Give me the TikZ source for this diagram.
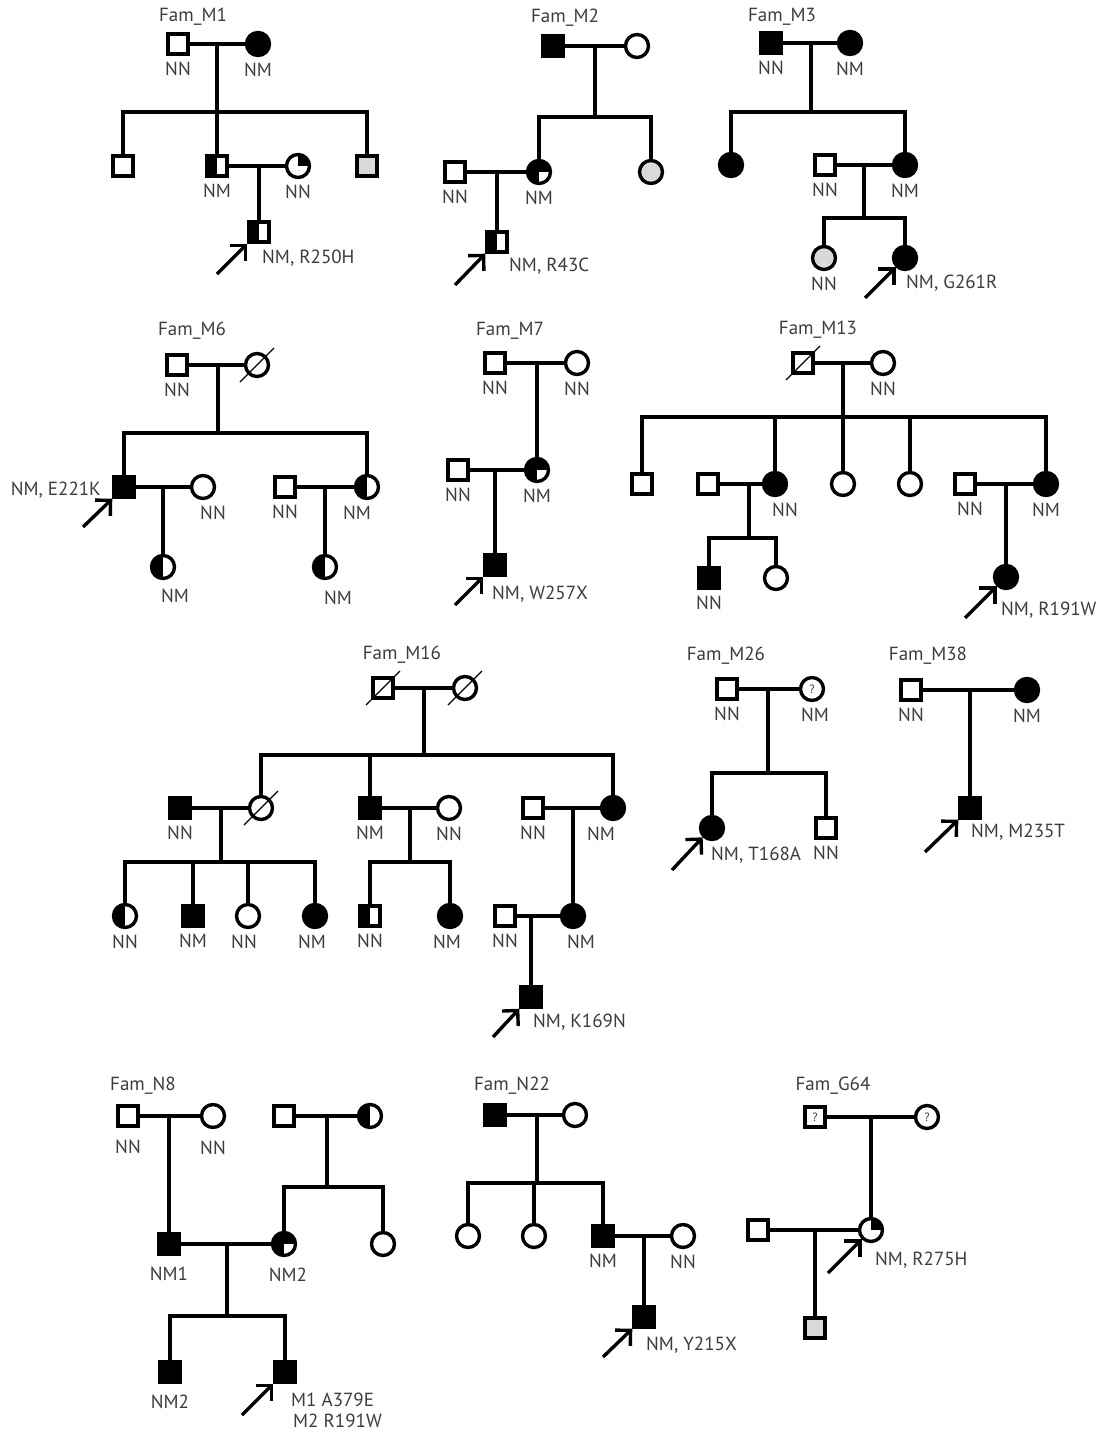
\documentclass[tikz,border=0pt]{standalone}
\usepackage{fontspec}
\newfontfamily\pedfont{PT Sans}
\usetikzlibrary{arrows.meta,calc}
\definecolor{labgray}{HTML}{3C3C3C}
\definecolor{carrgray}{HTML}{D9D9D9}

\begin{document}
\begin{tikzpicture}[x=1pt,y=-1pt,label distance=5pt,
 every label/.style={lab},
 lab/.style={font=\pedfont\fontsize{19}{21}\selectfont,text=labgray,inner sep=1pt},
 sq/.style={draw,line width=3.4pt,minimum size=20pt,inner sep=0pt,fill=white},
 ci/.style={circle,draw,line width=3.4pt,minimum size=23pt,inner sep=0pt,fill=white},
 aff/.style={fill=black},
 carr/.style={fill=carrgray},
 halfL/.style={path picture={\fill[black] (path picture bounding box.south west) rectangle (path picture bounding box.north);}},
 quartUR/.style={path picture={\fill[black] (path picture bounding box.center) rectangle (path picture bounding box.north east);}},
 threeQ/.style={path picture={\fill[black] (path picture bounding box.south west) rectangle (path picture bounding box.north);
   \fill[black] (path picture bounding box.center) rectangle (path picture bounding box.north east);}},
 qmark/.style={font=\pedfont\fontsize{12}{12}\selectfont,text=labgray},
 link/.style={line width=3.4pt},
 slash/.style={line width=1.2pt},
 proband/.style={line width=3.4pt,-{Straight Barb[length=11pt,width=22pt]}}]
\useasboundingbox (0,0) rectangle (1105,1432);

% Fam_M1
\node[lab] (t1) at (193,17) {Fam\_M1};
\node[sq,label={below:NN}] (m1f) at (178,44) {};
\node[ci,aff,label={below:NM}] (m1m) at (258,44) {};
\node[sq] (m1c1) at (123,166) {};
\node[sq,halfL,label={below:NM}] (m1c2) at (217,166) {};
\node[ci,quartUR,label={below:NN}] (m1w) at (298,166) {};
\node[sq,carr] (m1c3) at (367,166) {};
\node[sq,halfL] (m1p) at (259,232) {};
\node[lab,anchor=west] (m1l) at (261,258) {NM, R250H};
\coordinate (m1j) at (217,44);
\coordinate (m1s) at (217,112);
\coordinate (m1j2) at (259,166);
\coordinate (m1a) at (217,274);
\draw[link] (m1f) -- (m1m);
\draw[link] (m1j) -- (m1c2);
\draw[link] (m1c1) |- (m1s) -| (m1c3);
\draw[link] (m1c2) -- (m1w);
\draw[link] (m1j2) -- (m1p);
\draw[proband] (m1a) -- (m1p.south west);

% Fam_M2
\node[lab] (t2) at (565,18) {Fam\_M2};
\node[sq,aff] (m2f) at (553,46) {};
\node[ci] (m2m) at (637,46) {};
\node[ci,threeQ,label={below:NM}] (m2d) at (539,172) {};
\node[ci,carr] (m2e) at (651,172) {};
\node[sq,label={below:NN}] (m2h) at (455,172) {};
\node[sq,halfL] (m2p) at (497,242) {};
\node[lab,anchor=west] (m2l) at (508,266) {NM, R43C};
\coordinate (m2j) at (595,46);
\coordinate (m2s) at (595,117);
\coordinate (m2j2) at (497,172);
\coordinate (m2a) at (455,285);
\draw[link] (m2f) -- (m2m);
\draw[link] (m2j) -- (m2s);
\draw[link] (m2d) |- (m2s) -| (m2e);
\draw[link] (m2h) -- (m2d);
\draw[link] (m2j2) -- (m2p);
\draw[proband] (m2a) -- (m2p.south west);

% Fam_M3
\node[lab] (t3) at (782,17) {Fam\_M3};
\node[sq,aff,label={below:NN}] (m3f) at (771,43) {};
\node[ci,aff,label={below:NM}] (m3m) at (850,43) {};
\node[ci,aff] (m3c1) at (731,165) {};
\node[ci,aff,label={below:NM}] (m3d) at (905,165) {};
\node[sq,label={below:NN}] (m3h) at (825,165) {};
\node[ci,carr,label={below:NN}] (m3g) at (824,258) {};
\node[ci,aff] (m3p) at (905,258) {};
\node[lab,anchor=west] (m3l) at (905,283) {NM, G261R};
\coordinate (m3j) at (811,43);
\coordinate (m3s) at (811,112);
\coordinate (m3j2) at (864,165);
\coordinate (m3s2) at (864,218);
\coordinate (m3a) at (865,298);
\draw[link] (m3f) -- (m3m);
\draw[link] (m3j) -- (m3s);
\draw[link] (m3c1) |- (m3s) -| (m3d);
\draw[link] (m3h) -- (m3d);
\draw[link] (m3j2) -- (m3s2);
\draw[link] (m3g) |- (m3s2) -| (m3p);
\draw[proband] (m3a) -- (m3p.south west);

% Fam_M6
\node[lab] (t6) at (192,331) {Fam\_M6};
\node[sq,label={below:NN}] (m6f) at (177,365) {};
\node[ci] (m6m) at (257,365) {};
\node[sq,aff] (m6p) at (124,487) {};
\node[lab,anchor=east] (m6l) at (102,490) {NM, E221K};
\node[ci,label={[xshift=10pt]below:NN}] (m6w) at (203,487) {};
\node[ci,halfL,label={[xshift=12pt,label distance=8pt]below:NM}] (m6k) at (163,567) {};
\node[sq,label={below:NN}] (m6h) at (285,487) {};
\node[ci,halfL,label={[xshift=-10pt]below:NM}] (m6d) at (367,487) {};
\node[ci,halfL,label={[xshift=13pt,label distance=10pt]below:NM}] (m6k2) at (325,567) {};
\coordinate (m6j) at (218,365);
\coordinate (m6s) at (218,433);
\coordinate (m6j2) at (163,487);
\coordinate (m6j3) at (325,487);
\coordinate (m6a) at (83,527);
\draw[slash] ([shift={(-17,17)}]m6m.center) -- ([shift={(17,-17)}]m6m.center);
\draw[link] (m6f) -- (m6m);
\draw[link] (m6j) -- (m6s);
\draw[link] (m6p) |- (m6s) -| (m6d);
\draw[link] (m6p) -- (m6w);
\draw[link] (m6j2) -- (m6k);
\draw[link] (m6h) -- (m6d);
\draw[link] (m6j3) -- (m6k2);
\draw[proband] (m6a) -- (m6p.south west);

% Fam_M7
\node[lab] (t7) at (510,331) {Fam\_M7};
\node[sq,label={below:NN}] (m7f) at (495,363) {};
\node[ci,label={below:NN}] (m7m) at (577,363) {};
\node[ci,threeQ,label={below:NM}] (m7d) at (537,470) {};
\node[sq,label={below:NN}] (m7h) at (458,470) {};
\node[sq,aff] (m7p) at (495,565) {};
\node[lab,anchor=west] (m7l) at (491,594) {NM, W257X};
\coordinate (m7j) at (537,363);
\coordinate (m7j2) at (495,470);
\coordinate (m7a) at (455,605);
\draw[link] (m7f) -- (m7m);
\draw[link] (m7j) -- (m7d);
\draw[link] (m7h) -- (m7d);
\draw[link] (m7j2) -- (m7p);
\draw[proband] (m7a) -- (m7p.south west);

% Fam_M13
\node[lab] (t13) at (818,330) {Fam\_M13};
\node[sq] (m13f) at (803,363) {};
\node[ci,label={below:NN}] (m13m) at (883,363) {};
\node[sq] (m13c1) at (642,484) {};
\node[ci,aff,label={[xshift=10pt]below:NN}] (m13d) at (775,484) {};
\node[ci] (m13c3) at (843,484) {};
\node[ci] (m13c4) at (910,484) {};
\node[ci,aff,label={below:NM}] (m13e) at (1046,484) {};
\node[sq] (m13h) at (708,484) {};
\node[sq,aff,label={below:NN}] (m13g1) at (709,578) {};
\node[ci] (m13g2) at (776,578) {};
\node[sq,label={[xshift=5pt]below:NN}] (m13h2) at (965,484) {};
\node[ci,aff] (m13p) at (1006,577) {};
\node[lab,anchor=west] (m13l) at (1000,610) {NM, R191W};
\coordinate (m13j) at (843,363);
\coordinate (m13s) at (843,417);
\coordinate (m13j2) at (749,484);
\coordinate (m13s2) at (749,538);
\coordinate (m13j3) at (1006,484);
\coordinate (m13a) at (965,618);
\draw[slash] ([shift={(-17,17)}]m13f.center) -- ([shift={(17,-17)}]m13f.center);
\draw[link] (m13f) -- (m13m);
\draw[link] (m13j) -- (m13c3);
\draw[link] (m13c1) |- (m13s) -| (m13e);
\draw[link] (m13d) -- (m13d |- m13s);
\draw[link] (m13c4) -- (m13c4 |- m13s);
\draw[link] (m13h) -- (m13d);
\draw[link] (m13j2) -- (m13s2);
\draw[link] (m13g1) |- (m13s2) -| (m13g2);
\draw[link] (m13h2) -- (m13e);
\draw[link] (m13j3) -- (m13p);
\draw[proband] (m13a) -- (m13p.south west);

% Fam_M16
\node[lab] (t16) at (402,655) {Fam\_M16};
\node[sq] (m16f) at (383,688) {};
\node[ci] (m16m) at (465,688) {};
\node[ci] (m16a) at (261,808) {};
\node[sq,aff,label={below:NM}] (m16b) at (370,808) {};
\node[ci,aff,label={[xshift=-12pt]below:NM}] (m16c) at (613,808) {};
\node[sq,aff,label={below:NN}] (m16h1) at (180,808) {};
\node[ci,halfL,label={below:NN}] (m16g1) at (125,916) {};
\node[sq,aff,label={below:NM}] (m16g2) at (193,916) {};
\node[ci,label={[xshift=-4pt]below:NN}] (m16g3) at (248,916) {};
\node[ci,aff,label={[xshift=-3pt]below:NM}] (m16g4) at (315,916) {};
\node[ci,label={below:NN}] (m16w) at (449,808) {};
\node[sq,halfL,label={below:NN}] (m16g5) at (370,916) {};
\node[ci,aff,label={[xshift=-3pt]below:NM}] (m16g6) at (450,916) {};
\node[sq,label={below:NN}] (m16h2) at (533,808) {};
\node[ci,aff,label={[xshift=8pt]below:NM}] (m16d) at (573,916) {};
\node[sq,label={below:NN}] (m16h3) at (505,916) {};
\node[sq,aff] (m16p) at (531,997) {};
\node[lab,anchor=west] (m16l) at (532,1022) {NM, K169N};
\coordinate (m16j) at (424,688);
\coordinate (m16s) at (424,755);
\coordinate (m16j2) at (221,808);
\coordinate (m16s2) at (221,862);
\coordinate (m16j3) at (410,808);
\coordinate (m16s3) at (410,862);
\coordinate (m16j4) at (573,808);
\coordinate (m16j5) at (531,916);
\coordinate (m16pa) at (493,1037);
\draw[slash] ([shift={(-17,17)}]m16f.center) -- ([shift={(17,-17)}]m16f.center);
\draw[slash] ([shift={(-17,17)}]m16m.center) -- ([shift={(17,-17)}]m16m.center);
\draw[slash] ([shift={(-17,17)}]m16a.center) -- ([shift={(17,-17)}]m16a.center);
\draw[link] (m16f) -- (m16m);
\draw[link] (m16j) -- (m16s);
\draw[link] (m16a) |- (m16s) -| (m16c);
\draw[link] (m16b) -- (m16b |- m16s);
\draw[link] (m16h1) -- (m16a);
\draw[link] (m16j2) -- (m16s2);
\draw[link] (m16g1) |- (m16s2) -| (m16g4);
\draw[link] (m16g2) -- (m16g2 |- m16s2);
\draw[link] (m16g3) -- (m16g3 |- m16s2);
\draw[link] (m16b) -- (m16w);
\draw[link] (m16j3) -- (m16s3);
\draw[link] (m16g5) |- (m16s3) -| (m16g6);
\draw[link] (m16h2) -- (m16c);
\draw[link] (m16j4) -- (m16d);
\draw[link] (m16h3) -- (m16d);
\draw[link] (m16j5) -- (m16p);
\draw[proband] (m16pa) -- (m16p.south west);

% Fam_M26
\node[lab] (t26) at (726,656) {Fam\_M26};
\node[sq,label={below:NN}] (m26f) at (727,689) {};
\node[ci,qmark,label={[xshift=3pt]below:NM}] (m26m) at (812,689) {?};
\node[ci,aff] (m26p) at (712,828) {};
\node[sq,label={below:NN}] (m26c) at (826,828) {};
\node[lab,anchor=west] (m26l) at (710,855) {NM, T168A};
\coordinate (m26j) at (768,689);
\coordinate (m26s) at (768,773);
\coordinate (m26a) at (672,870);
\draw[link] (m26f) -- (m26m);
\draw[link] (m26j) -- (m26s);
\draw[link] (m26p) |- (m26s) -| (m26c);
\draw[proband] (m26a) -- (m26p.south west);

% Fam_M38
\node[lab] (t38) at (928,656) {Fam\_M38};
\node[sq,label={below:NN}] (m38f) at (911,690) {};
\node[ci,aff,label={below:NM}] (m38m) at (1027,690) {};
\node[sq,aff] (m38p) at (970,808) {};
\node[lab,anchor=west] (m38l) at (970,832) {NM, M235T};
\coordinate (m38j) at (970,690);
\coordinate (m38a) at (925,852);
\draw[link] (m38f) -- (m38m);
\draw[link] (m38j) -- (m38p);
\draw[proband] (m38a) -- (m38p.south west);

% Fam_N8
\node[lab] (tn8) at (143,1086) {Fam\_N8};
\node[sq,label={[label distance=11pt]below:NN}] (n8f) at (128,1116) {};
\node[ci,label={[label distance=11pt]below:NN}] (n8m) at (213,1116) {};
\node[sq] (n8f2) at (284,1116) {};
\node[ci,halfL] (n8m2) at (370,1116) {};
\node[sq,aff,label={[label distance=10pt]below:NM1}] (n8a) at (169,1244) {};
\node[ci,threeQ,label={[xshift=4pt,label distance=10pt]below:NM2}] (n8b) at (284,1244) {};
\node[ci] (n8c) at (383,1244) {};
\node[sq,aff,label={[label distance=10pt]below:NM2}] (n8g) at (170,1372) {};
\node[sq,aff] (n8p) at (285,1372) {};
\node[lab,anchor=west] (n8l1) at (290,1400) {M1 A379E};
\node[lab,anchor=west] (n8l2) at (292,1421) {M2 R191W};
\coordinate (n8j) at (169,1116);
\coordinate (n8j2) at (327,1116);
\coordinate (n8s2) at (327,1187);
\coordinate (n8j3) at (227,1244);
\coordinate (n8s3) at (227,1316);
\coordinate (n8a2) at (242,1415);
\draw[link] (n8f) -- (n8m);
\draw[link] (n8j) -- (n8a);
\draw[link] (n8f2) -- (n8m2);
\draw[link] (n8j2) -- (n8s2);
\draw[link] (n8b) |- (n8s2) -| (n8c);
\draw[link] (n8a) -- (n8b);
\draw[link] (n8j3) -- (n8s3);
\draw[link] (n8g) |- (n8s3) -| (n8p);
\draw[proband] (n8a2) -- (n8p.south west);

% Fam_N22
\node[lab] (tn22) at (512,1086) {Fam\_N22};
\node[sq,aff] (n22f) at (495,1115) {};
\node[ci] (n22m) at (575,1115) {};
\node[ci] (n22c1) at (468,1236) {};
\node[ci] (n22c2) at (534,1236) {};
\node[sq,aff,label={below:NM}] (n22a) at (603,1236) {};
\node[ci,label={below:NN}] (n22w) at (683,1236) {};
\node[sq,aff] (n22p) at (644,1317) {};
\node[lab,anchor=west] (n22l) at (645,1345) {NM, Y215X};
\coordinate (n22j) at (537,1115);
\coordinate (n22s) at (537,1183);
\coordinate (n22j2) at (644,1236);
\coordinate (n22pa) at (603,1357);
\draw[link] (n22f) -- (n22m);
\draw[link] (n22j) -- (n22s);
\draw[link] (n22c1) |- (n22s) -| (n22a);
\draw[link] (n22c2) -- (n22c2 |- n22s);
\draw[link] (n22a) -- (n22w);
\draw[link] (n22j2) -- (n22p);
\draw[proband] (n22pa) -- (n22p.south west);

% Fam_G64
\node[lab] (tg64) at (833,1086) {Fam\_G64};
\node[sq,qmark] (g64f) at (815,1117) {?};
\node[ci,qmark] (g64m) at (927,1117) {?};
\node[ci,quartUR] (g64p) at (871,1230) {};
\node[sq] (g64h) at (758,1230) {};
\node[sq,carr] (g64c) at (815,1328) {};
\node[lab,anchor=west] (g64l) at (874,1260) {NM, R275H};
\coordinate (g64j) at (871,1117);
\coordinate (g64j2) at (815,1230);
\coordinate (g64a) at (828,1273);
\draw[link] (g64f) -- (g64m);
\draw[link] (g64j) -- (g64p);
\draw[link] (g64h) -- (g64p);
\draw[link] (g64j2) -- (g64c);
\draw[proband] (g64a) -- (g64p.south west);
\end{tikzpicture}
\end{document}
